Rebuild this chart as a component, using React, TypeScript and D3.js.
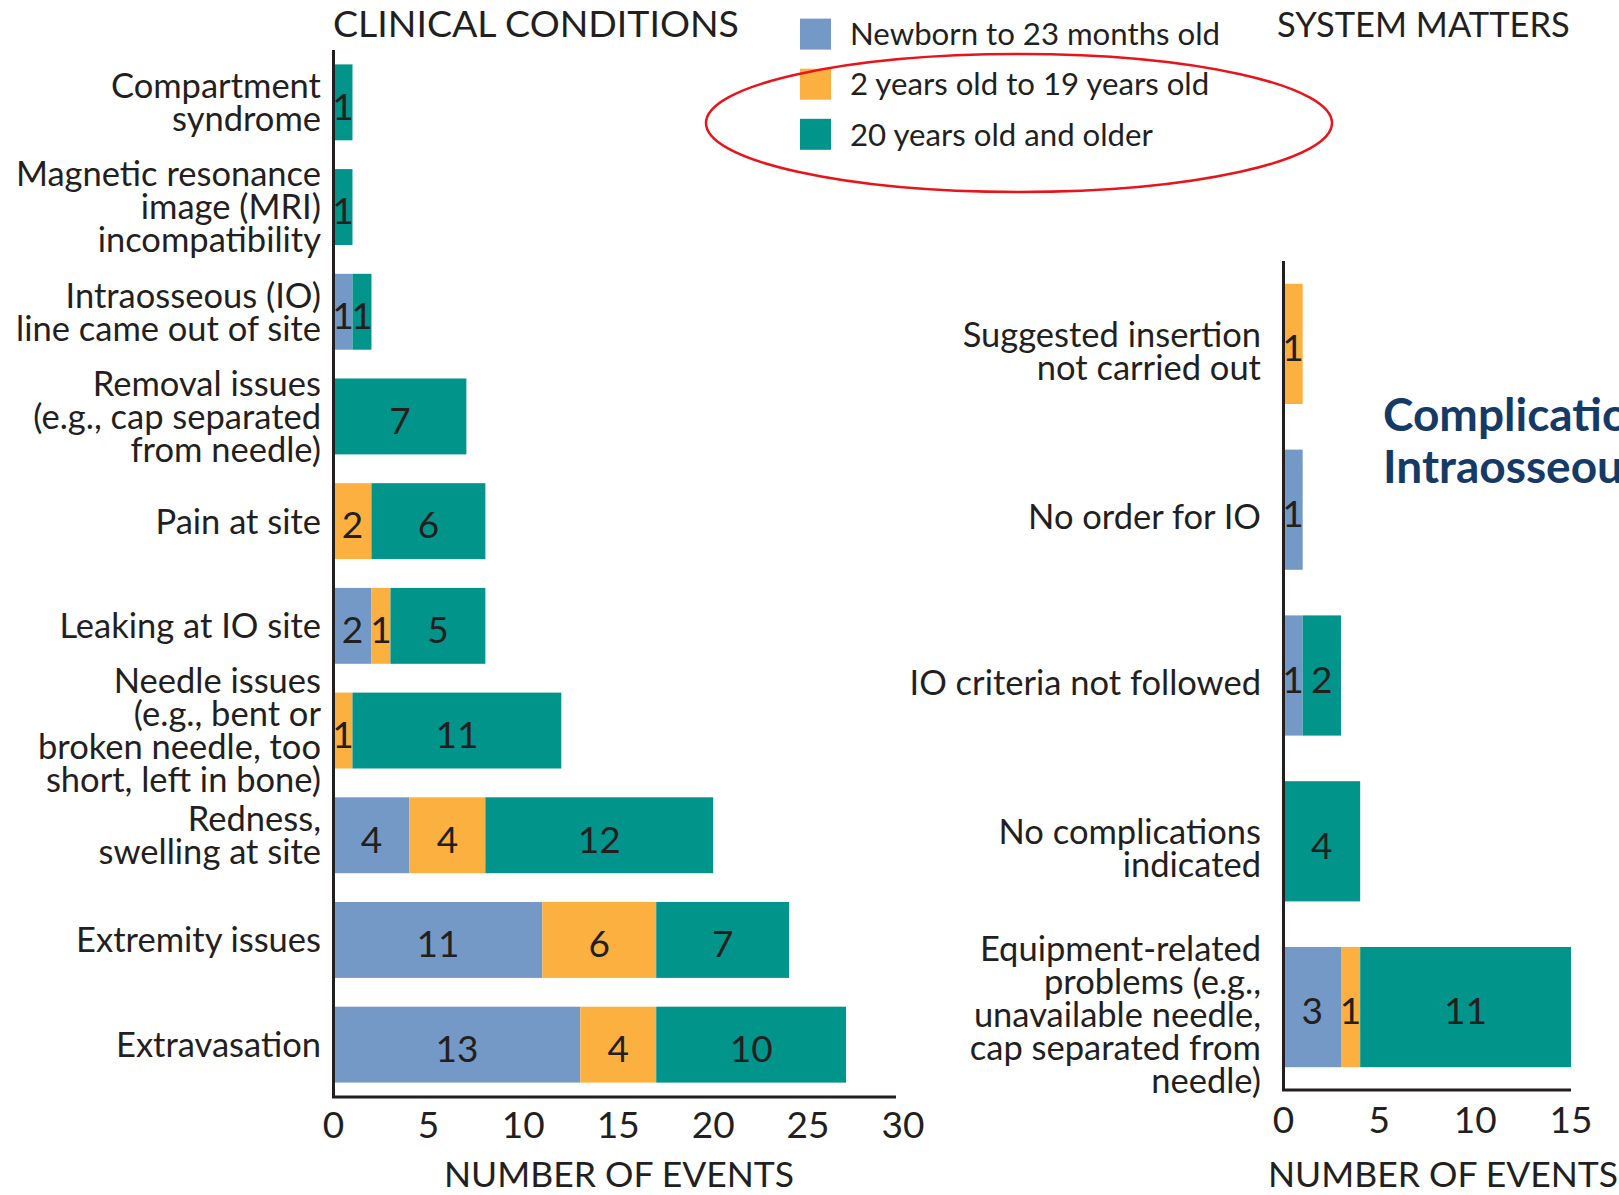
import * as React from "react"
import * as d3 from "d3"

// ---- data ----
const seriesNames = ["Newborn to 23 months old", "2 years old to 19 years old", "20 years old and older"]
const seriesColors = ["#7599c6", "#fbb040", "#00948b"]

const clinicalLabels = [
  ["Compartment", "syndrome"],
  ["Magnetic resonance", "image (MRI)", "incompatibility"],
  ["Intraosseous (IO)", "line came out of site"],
  ["Removal issues", "(e.g., cap separated", "from needle)"],
  ["Pain at site"],
  ["Leaking at IO site"],
  ["Needle issues", "(e.g., bent or", "broken needle, too", "short, left in bone)"],
  ["Redness,", "swelling at site"],
  ["Extremity issues"],
  ["Extravasation"],
]
const clinicalNewborn = [0, 0, 1, 0, 0, 2, 0, 4, 11, 13]
const clinicalChild = [0, 0, 0, 0, 2, 1, 1, 4, 6, 4]
const clinicalAdult = [1, 1, 1, 7, 6, 5, 11, 12, 7, 10]
const clinicalTicks = [0, 5, 10, 15, 20, 25, 30]

const systemLabels = [
  ["Suggested insertion", "not carried out"],
  ["No order for IO"],
  ["IO criteria not followed"],
  ["No complications", "indicated"],
  ["Equipment-related", "problems (e.g.,", "unavailable needle,", "cap separated from", "needle)"],
]
const systemNewborn = [0, 1, 1, 0, 3]
const systemChild = [1, 0, 0, 0, 1]
const systemAdult = [0, 0, 2, 4, 11]
const systemTicks = [0, 5, 10, 15]

const headlineLines = ["Complications", "Intraosseous"]

const INK = "#231f20"
const FONT = "Lato, 'Open Sans', sans-serif"

type Row = { idx: number; a: number; b: number; c: number }

function Panel({
  labels,
  newborn,
  child,
  adult,
  ticks,
  x0,
  x1,
  domainMax,
  y0,
  y1,
  axisEnd,
  labelX,
  labelShift,
  tickY,
  title,
  titleX,
  titleSize,
}: {
  labels: string[][]
  newborn: number[]
  child: number[]
  adult: number[]
  ticks: number[]
  x0: number
  x1: number
  domainMax: number
  y0: number
  y1: number
  axisEnd: number
  labelX: number
  labelShift: number
  tickY: number
  title: string
  titleX: number
  titleSize: number
}) {
  const rows: Row[] = labels.map((_, i) => ({ idx: i, a: newborn[i], b: child[i], c: adult[i] }))
  const stack = d3.stack<Row>().keys(["a", "b", "c"])(rows)
  const x = d3.scaleLinear().domain([0, domainMax]).range([x0, x1])
  const y = d3
    .scaleBand<number>()
    .domain(rows.map((r) => r.idx))
    .range([y0, y1])
    .paddingInner(0.275)
    .paddingOuter(0.1375)
  const lineH = 33

  return (
    <g>
      {/* bars */}
      {stack.map((layer, si) => (
        <g key={si} fill={seriesColors[si]}>
          {layer.map((d, i) =>
            d[1] - d[0] > 0 ? (
              <rect
                key={i}
                x={x(d[0])}
                y={y(i)}
                width={x(d[1]) - x(d[0])}
                height={y.bandwidth()}
              />
            ) : null
          )}
        </g>
      ))}
      {/* value labels */}
      {stack.map((layer, si) => (
        <g key={"v" + si} fill={INK} fontFamily={FONT} fontSize={37} textAnchor="middle">
          {layer.map((d, i) =>
            d[1] - d[0] > 0 ? (
              <text key={i} x={(x(d[0]) + x(d[1])) / 2} y={y(i)! + y.bandwidth() / 2 + 4} dy="0.36em">
                {d[1] - d[0]}
              </text>
            ) : null
          )}
        </g>
      ))}
      {/* category labels */}
      <g fill={INK} fontFamily={FONT} fontSize={34.5} textAnchor="end">
        {labels.map((lines, i) => {
          const cy = y(i)! + y.bandwidth() / 2 + labelShift
          return lines.map((ln, k) => (
            <text key={i + "-" + k} x={labelX} y={cy + (k - (lines.length - 1) / 2) * lineH} dy="0.36em">
              {ln}
            </text>
          ))
        })}
      </g>
      {/* axes */}
      <line x1={x0} x2={x0} y1={y0} y2={y1} stroke={INK} strokeWidth={3} />
      <line x1={x0 - 1.5} x2={axisEnd} y1={y1} y2={y1} stroke={INK} strokeWidth={3} />
      <g fill={INK} fontFamily={FONT} fontSize={37} textAnchor="middle">
        {ticks.map((t) => (
          <text key={t} x={x(t)} y={tickY} dy="0.36em">
            {t}
          </text>
        ))}
      </g>
      <text x={titleX} y={37} fill={INK} fontFamily={FONT} fontSize={titleSize}>
        {title}
      </text>
    </g>
  )
}

export default function App() {
  return (
    <svg
      width={1619}
      height={1195}
      viewBox="0 0 1619 1195"
      style={{ position: "absolute", left: 0, top: 0, background: "#fff", display: "block" }}
    >
      <rect width={1619} height={1195} fill="#fff" />
      <Panel
        labels={clinicalLabels}
        newborn={clinicalNewborn}
        child={clinicalChild}
        adult={clinicalAdult}
        ticks={clinicalTicks}
        x0={333.5}
        x1={903}
        domainMax={30}
        y0={50}
        y1={1097}
        axisEnd={896}
        labelX={321}
        labelShift={0}
        tickY={1125}
        title="CLINICAL CONDITIONS"
        titleX={333}
        titleSize={37.5}
      />
      <Panel
        labels={systemLabels}
        newborn={systemNewborn}
        child={systemChild}
        adult={systemAdult}
        ticks={systemTicks}
        x0={1283.5}
        x1={1571}
        domainMax={15}
        y0={261}
        y1={1090}
        axisEnd={1571}
        labelX={1261}
        labelShift={7}
        tickY={1120}
        title="SYSTEM MATTERS"
        titleX={1277}
        titleSize={34.5}
      />
      {/* x-axis titles */}
      <g fill={INK} fontFamily={FONT} fontSize={35.5}>
        <text x={444} y={1187}>NUMBER OF EVENTS</text>
        <text x={1268} y={1187}>NUMBER OF EVENTS</text>
      </g>
      {/* legend */}
      <g fontFamily={FONT} fontSize={31.2} fill={INK}>
        {seriesNames.map((s, i) => (
          <g key={s} transform={`translate(800,${18.6 + i * 50.1})`}>
            <rect width={31} height={31} fill={seriesColors[i]} />
            <text x={50} y={15.5} dy="0.36em">
              {s}
            </text>
          </g>
        ))}
      </g>
      <ellipse cx={1019} cy={123} rx={313} ry={69} fill="none" stroke="#e8141b" strokeWidth={2.5} />
      {/* headline, cut off at right edge as in the source */}
      <g fill="#153a66" fontFamily={FONT} fontSize={46} fontWeight={700}>
        {headlineLines.map((t, i) => (
          <text key={t} x={1383} y={431 + i * 52}>
            {t}
          </text>
        ))}
      </g>
    </svg>
  )
}
